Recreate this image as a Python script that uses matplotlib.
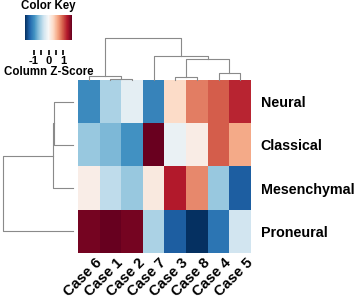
import numpy as np
import matplotlib
matplotlib.use("Agg")
import matplotlib.pyplot as plt
from matplotlib.cm import ScalarMappable
from matplotlib.colors import Normalize
from matplotlib.transforms import ScaledTranslation

plt.rcParams['font.family'] = ['Liberation Sans', 'DejaVu Sans']
plt.rcParams['font.weight'] = 'bold'

# columns / rows in display (clustered) order
cases = ["Case 6", "Case 1", "Case 2", "Case 7", "Case 3", "Case 8", "Case 4", "Case 5"]
subtypes = ["Neural", "Classical", "Mesenchymal", "Proneural"]

neural = [-1.0, -0.5, -0.15, -1.05, 0.3, 0.8, 0.95, 1.2]
classical = [-0.6, -0.7, -0.95, 1.55, -0.1, 0.12, 0.95, 0.6]
mesenchymal = [0.1, -0.4, -0.6, 0.15, 1.25, 0.75, -0.6, -1.3]
proneural = [1.5, 1.6, 1.5, -0.5, -1.3, -1.6, -1.15, -0.3]

# dendrogram merges: (left, right, height); ids >= n are earlier merges
col_merges = [(1, 2, 1), (0, 8, 4), (4, 5, 3), (6, 7, 7),
              (10, 11, 21), (3, 12, 24), (9, 13, 42)]
row_merges = [(0, 1, 19), (4, 2, 20), (5, 3, 70)]

data = np.array([neural, classical, mesenchymal, proneural])
cmap = plt.get_cmap("RdBu_r")
vmin, vmax = -1.57, 1.57
W, H = 358, 299


def draw_dendro(ax, merges, n, vertical=True):
    pos = {i: float(i) for i in range(n)}
    hgt = {i: 0.0 for i in range(n)}
    for k, (a, b, h) in enumerate(merges):
        xs = [pos[a], pos[a], pos[b], pos[b]]
        ys = [hgt[a], h, h, hgt[b]]
        if vertical:
            ax.plot(xs, ys, color="#8a8a8a", lw=0.8, clip_on=False)
        else:
            ax.plot(ys, xs, color="#8a8a8a", lw=0.8, clip_on=False)
        pos[n + k] = (pos[a] + pos[b]) / 2
        hgt[n + k] = h


fig = plt.figure(figsize=(W / 100, H / 100), dpi=100)

# heatmap
hx0, hx1, hy0, hy1 = 78, 251, 80, 253
ax = fig.add_axes([hx0 / W, 1 - hy1 / H, (hx1 - hx0) / W, (hy1 - hy0) / H])
ax.imshow(data, cmap=cmap, vmin=vmin, vmax=vmax, aspect="auto", interpolation="nearest")
ax.set_xticks(range(len(cases)))
ax.set_xticklabels(cases, rotation=45, ha="right", va="top", rotation_mode="anchor",
                   fontsize=10.5, fontweight="bold")
ax.set_yticks(range(len(subtypes)))
ax.set_yticklabels(subtypes, fontsize=10.3, fontweight="bold")
ax.yaxis.tick_right()
ax.tick_params(length=0, pad=2)
ax.tick_params(axis="y", pad=7)
for s in ax.spines.values():
    s.set_visible(False)
for lbl in ax.get_xticklabels():
    lbl.set_transform(lbl.get_transform() + ScaledTranslation(4 / 72, 0, fig.dpi_scale_trans))

# column dendrogram
axc = fig.add_axes([hx0 / W, 1 - hy0 / H, (hx1 - hx0) / W, 43 / H])
draw_dendro(axc, col_merges, len(cases), vertical=True)
axc.set_xlim(-0.5, len(cases) - 0.5)
axc.set_ylim(0, 43)
axc.axis("off")

# row dendrogram
axr = fig.add_axes([3 / W, 1 - hy1 / H, 70 / W, (hy1 - hy0) / H])
draw_dendro(axr, row_merges, len(subtypes), vertical=False)
axr.set_xlim(70, 0)
axr.set_ylim(len(subtypes) - 0.5, -0.5)
axr.axis("off")

# color key
axk = fig.add_axes([25 / W, 1 - 40 / H, 47 / W, 25 / H])
cb = fig.colorbar(ScalarMappable(norm=Normalize(vmin, vmax), cmap=cmap), cax=axk,
                  orientation="horizontal", ticks=[-1, -0.5, 0, 0.5, 1])
cb.set_ticklabels(["-1", "", "0", "", "1"])
cb.outline.set_visible(False)
axk.spines["bottom"].set_visible(True)
axk.spines["bottom"].set_position(("outward", 7))
axk.spines["bottom"].set_color("none")
axk.tick_params(length=3.5, width=1.2, labelsize=8, pad=1)
for t in axk.get_xticklabels():
    t.set_fontweight("bold")
axk.set_title("Color Key", fontsize=8.3, fontweight="bold", pad=4)
axk.set_xlabel("Column Z-Score", fontsize=8.3, fontweight="bold", labelpad=0)

fig.savefig("out.png", dpi=100)
